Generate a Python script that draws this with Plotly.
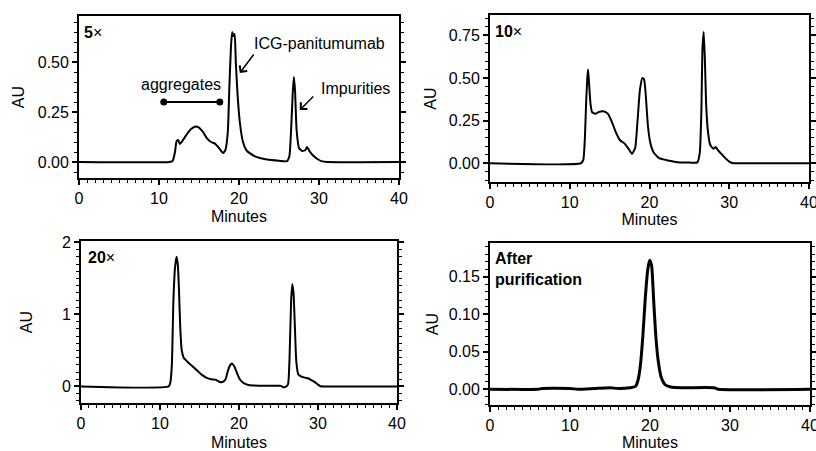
import plotly.graph_objects as go

# ---------------- data ----------------
t_5x = [0, 11.3, 11.7, 12.0, 12.2, 12.4, 12.6, 13.0, 13.5, 14.0, 14.6, 15.0, 15.5, 16.0, 16.5,
        17.0, 17.5, 18.0, 18.3, 18.6, 18.8, 19.0, 19.15, 19.3, 19.45, 19.6, 19.8, 20.1, 20.5,
        21.0, 22.0, 23.5, 25.0, 26.0, 26.3, 26.5, 26.7, 26.85, 27.0, 27.2, 27.5, 27.9, 28.3,
        28.5, 28.8, 29.2, 29.8, 30.4, 31, 40]
au_5x = [0, 0, 0.005, 0.05, 0.105, 0.11, 0.09, 0.11, 0.14, 0.165, 0.178, 0.172, 0.15, 0.118, 0.1,
         0.092, 0.07, 0.045, 0.06, 0.15, 0.38, 0.58, 0.65, 0.63, 0.64, 0.5, 0.35, 0.2, 0.1,
         0.055, 0.028, 0.012, 0.006, 0.004, 0.03, 0.15, 0.33, 0.425, 0.36, 0.16, 0.07, 0.055, 0.06,
         0.075, 0.055, 0.035, 0.015, 0.003, 0, 0]

t_10x = [0, 11.4, 11.7, 11.9, 12.05, 12.2, 12.3, 12.45, 12.6, 12.8, 13.2, 13.6, 14.2, 14.8, 15.3,
         15.8, 16.3, 16.9, 17.3, 17.8, 18.2, 18.5, 18.8, 19.1, 19.3, 19.5, 19.8, 20.1, 20.5, 21.2,
         22.5, 23.5, 25.0, 26.0, 26.3, 26.5, 26.65, 26.8, 26.95, 27.1, 27.3, 27.6, 28.0, 28.3,
         28.6, 29.0, 29.5, 30.0, 30.4, 31, 40]
au_10x = [0, 0, 0.02, 0.15, 0.35, 0.5, 0.55, 0.45, 0.35, 0.3, 0.29, 0.3, 0.305, 0.29, 0.24,
          0.18, 0.135, 0.115, 0.09, 0.055, 0.09, 0.25, 0.43, 0.5, 0.495, 0.42, 0.22, 0.12, 0.065, 0.03,
          0.015, 0.006, 0.004, 0.005, 0.06, 0.3, 0.68, 0.77, 0.6, 0.35, 0.2, 0.11, 0.085, 0.095,
          0.075, 0.055, 0.03, 0.01, 0.002, 0, 0]

t_20x = [0, 11.1, 11.3, 11.5, 11.7, 11.9, 12.1, 12.25, 12.4, 12.55, 12.75, 13.0, 13.5, 14.0, 14.7,
         15.3, 15.9, 16.5, 17.0, 17.5, 17.9, 18.3, 18.6, 18.9, 19.1, 19.4, 19.7, 20.1, 20.6, 21.2,
         22.5, 24.5, 25.3, 25.6, 25.9, 26.2, 26.4, 26.6, 26.75, 26.9, 27.05, 27.25, 27.5, 27.9,
         28.4, 28.8, 29.2, 29.6, 30.0, 30.3, 31, 40]
au_20x = [0, 0, 0.05, 0.3, 1.2, 1.65, 1.8, 1.7, 1.35, 0.85, 0.5, 0.4, 0.34, 0.29, 0.22,
          0.16, 0.12, 0.1, 0.095, 0.065, 0.06, 0.1, 0.22, 0.3, 0.32, 0.28, 0.2, 0.1, 0.045, 0.02,
          0.01, 0.008, 0.008, -0.012, -0.005, 0.03, 0.4, 1.2, 1.42, 1.3, 0.9, 0.35, 0.17, 0.135,
          0.12, 0.11, 0.085, 0.06, 0.025, 0.003, 0, 0]

t_pur = [0, 6, 6.5, 10, 11, 13, 15, 16, 17.5, 18.2, 18.5, 18.8, 19.1, 19.4, 19.7, 19.95, 20.2,
         20.45, 20.7, 21.0, 21.4, 21.9, 22.6, 24, 28, 28.5, 40]
au_pur = [0, 0, 0.001, 0.001, 0.0, 0.001, 0.002, 0.001, 0.002, 0.004, 0.012, 0.032, 0.07, 0.12,
          0.158, 0.172, 0.165, 0.12, 0.075, 0.04, 0.016, 0.006, 0.003, 0.002, 0.002, 0.0, 0]

agg_span_t = [10.6, 17.6]
agg_span_au = [0.30, 0.30]

x_ticks = [0, 10, 20, 30, 40]
panel_labels = ["<b>5</b>×", "<b>10</b>×", "<b>20</b>×", "<b>After<br>purification</b>"]

# ---------------- layout geometry ----------------
W, H = 816, 451
def dom_x(l, r):
    return [l / W, r / W]
def dom_y(top, bot):
    return [1 - bot / H, 1 - top / H]

FONT = "Liberation Sans, Arial, sans-serif"
fig = go.Figure()

series = [(t_5x, au_5x, "x", "y", 2.0),
          (t_10x, au_10x, "x2", "y2", 2.0),
          (t_20x, au_20x, "x3", "y3", 2.0),
          (t_pur, au_pur, "x4", "y4", 3.0)]
for t, a, xa, ya, lw in series:
    fig.add_trace(go.Scatter(x=t, y=a, xaxis=xa, yaxis=ya, mode="lines",
                             line=dict(color="black", width=lw, shape="spline", smoothing=0.5),
                             showlegend=False, hoverinfo="skip"))

fig.add_trace(go.Scatter(x=agg_span_t, y=agg_span_au, xaxis="x", yaxis="y", mode="lines+markers",
                         line=dict(color="black", width=2), marker=dict(color="black", size=7),
                         showlegend=False, hoverinfo="skip"))

panels = [
    dict(xd=dom_x(79, 399), yd=dom_y(16, 178), yr=[-0.08, 0.73], dt=0.25, mdt=0.05, fmt=".2f", ystand=9, xstand=5),
    dict(xd=dom_x(490, 809), yd=dom_y(15, 182), yr=[-0.11, 0.87], dt=0.25, mdt=0.05, fmt=".2f", ystand=8, xstand=4),
    dict(xd=dom_x(81, 397), yd=dom_y(241, 403), yr=[-0.23, 2.02], dt=1, mdt=0.1, fmt="d", ystand=25, xstand=11),
    dict(xd=dom_x(490, 810), yd=dom_y(243, 405), yr=[-0.021, 0.195], dt=0.05, mdt=0.01, fmt=".2f", ystand=6, xstand=10),
]

tickfont = dict(family=FONT, size=16, color="black")
for i, p in enumerate(panels):
    sfx = "" if i == 0 else str(i + 1)
    fig.layout["xaxis" + sfx] = dict(
        domain=p["xd"], anchor="y" + sfx, range=[0, 40], tickvals=x_ticks, automargin=False,
        ticklabeloverflow="allow",
        ticks="outside", ticklen=5, tickwidth=1.5, tickcolor="black",
        minor=dict(dtick=1, ticks="outside", ticklen=3, tickcolor="black", tickwidth=1),
        showline=True, linecolor="black", linewidth=1.8, mirror=True,
        showgrid=False, zeroline=False, tickfont=tickfont,
        title=dict(text="Minutes", font=dict(family=FONT, size=16, color="black"), standoff=p["xstand"]))
    fig.layout["yaxis" + sfx] = dict(
        domain=p["yd"], anchor="x" + sfx, range=p["yr"], dtick=p["dt"], tick0=0, tickformat=p["fmt"],
        automargin=False, ticklabeloverflow="allow",
        ticks="outside", ticklen=5, tickwidth=1.5, tickcolor="black",
        minor=dict(dtick=p["mdt"], ticks="outside", ticklen=3, tickcolor="black", tickwidth=1),
        showline=True, linecolor="black", linewidth=1.8, mirror="ticks",
        showgrid=False, zeroline=False, tickfont=tickfont,
        title=dict(text="AU", font=dict(family=FONT, size=16, color="black"), standoff=p["ystand"]))

annots = []
label_pos = [(0.01, 0.9), (0.01, 0.9), (0.015, 0.9), (0.01, 0.84)]
for i, (lab, (xx, yy)) in enumerate(zip(panel_labels, label_pos)):
    sfx = "" if i == 0 else str(i + 1)
    annots.append(dict(text=lab, xref=("x" + sfx) + " domain", yref=("y" + sfx) + " domain",
                       x=xx, y=yy, xanchor="left", yanchor="middle", showarrow=False, align="left",
                       font=dict(family=FONT, size=16, color="black")))

txtfont = dict(family=FONT, size=16, color="black")
annots += [
    dict(text="ICG-panitumumab", x=30.1, y=0.595, xref="x", yref="y", showarrow=False, font=txtfont),
    dict(text="Impurities", x=34.6, y=0.37, xref="x", yref="y", showarrow=False, font=txtfont),
    dict(text="aggregates", x=12.7, y=0.39, xref="x", yref="y", showarrow=False, font=txtfont),
    dict(text="", x=20.1, y=0.445, xref="x", yref="y", showarrow=True, ax=15, ay=-20,
         arrowhead=4, arrowsize=1.2, arrowwidth=1.5, arrowcolor="black"),
    dict(text="", x=27.6, y=0.26, xref="x", yref="y", showarrow=True, ax=15, ay=-15,
         arrowhead=4, arrowsize=1.2, arrowwidth=1.5, arrowcolor="black"),
]
fig.update_layout(annotations=annots, width=W, height=H,
                  margin=dict(l=0, r=0, t=0, b=0),
                  paper_bgcolor="white", plot_bgcolor="white",
                  font=dict(family=FONT, color="black"))

fig.write_html("out.html", config={"displayModeBar": False},
               post_script="document.body.style.margin='0';document.body.style.overflow='hidden';")
